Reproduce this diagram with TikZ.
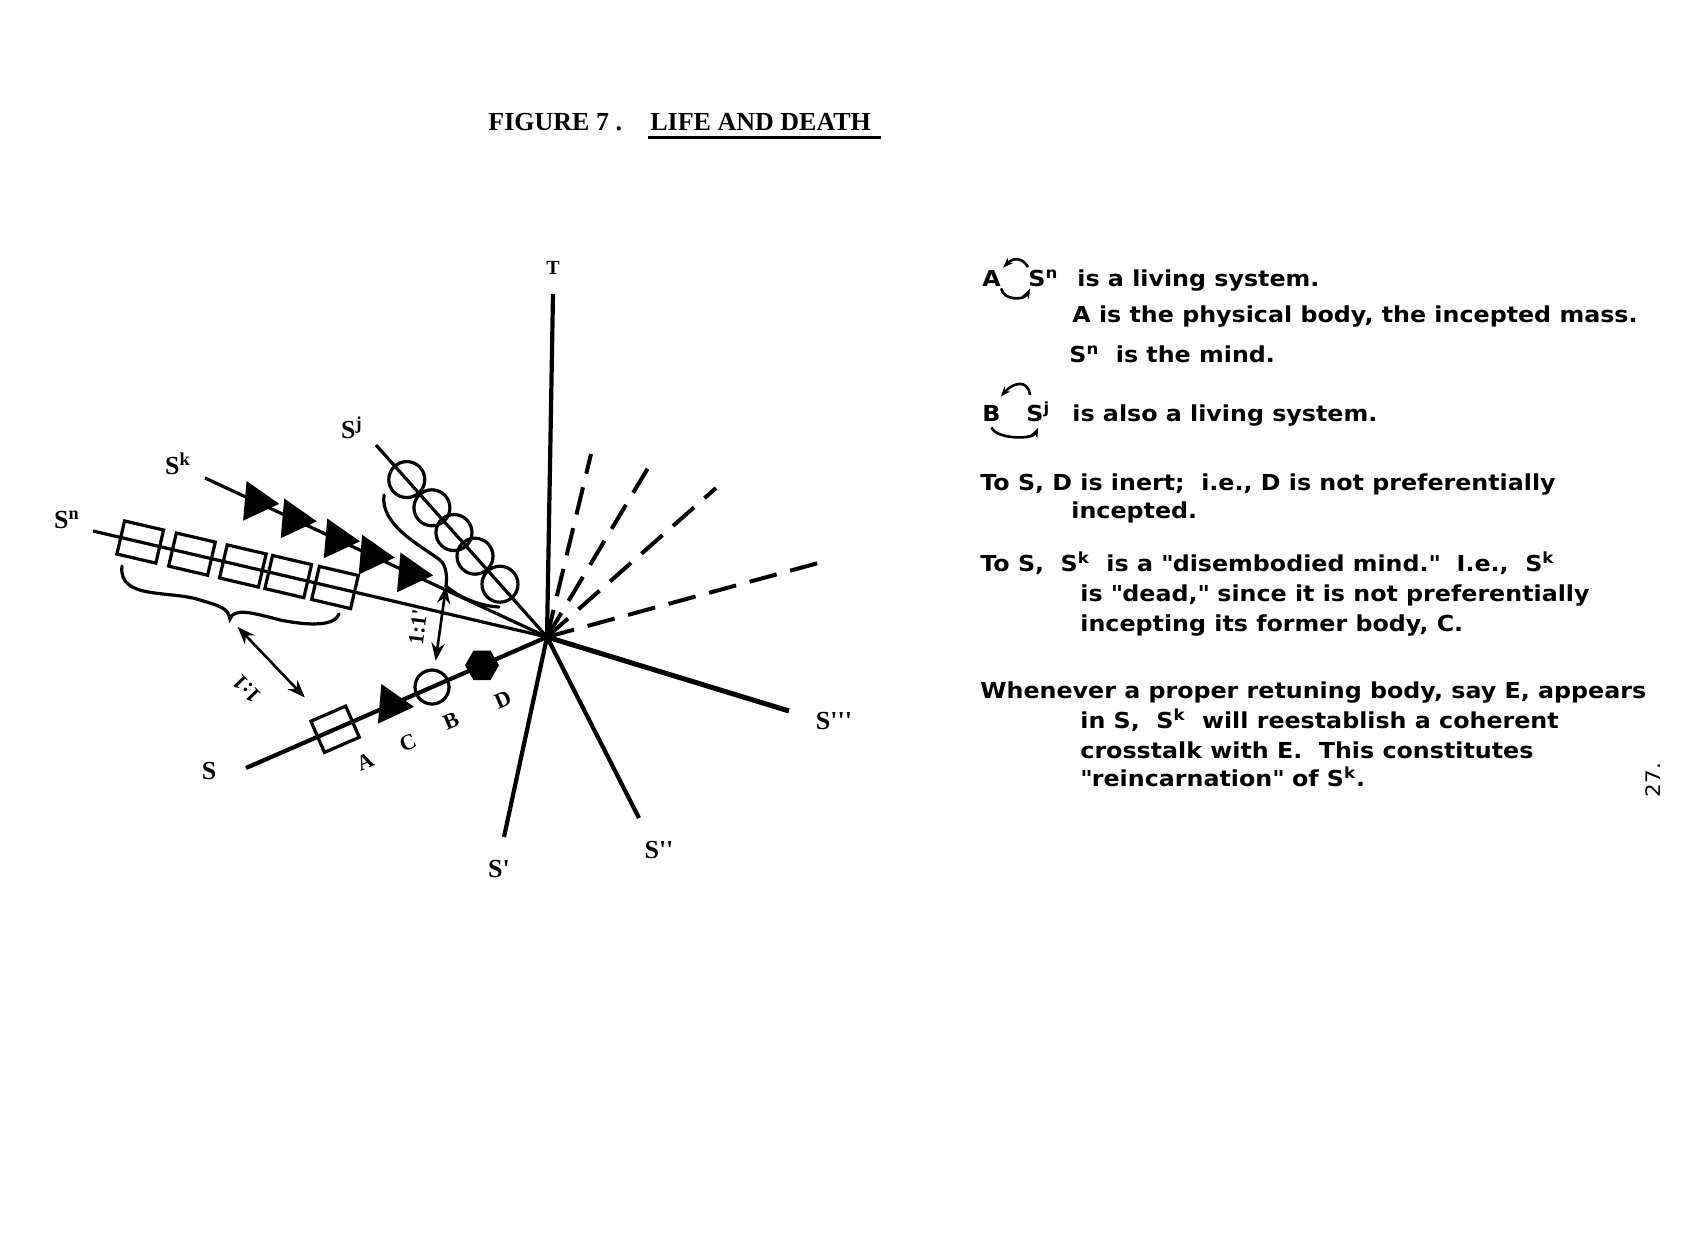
\documentclass[tikz,border=0pt]{standalone}
\usepackage{fontspec}
\setmainfont{DejaVu Sans}[FakeStretch=1.08]
\newfontfamily\diagfont{Liberation Serif}
\usetikzlibrary{shapes.geometric, arrows.meta, positioning, calc}

\begin{document}
\begin{tikzpicture}[x=0.5pt, y=-0.5pt, >=Stealth,
  ray/.style={line width=2.1pt},
  feed/.style={line width=1.6pt},
  dray/.style={line width=2pt, dash pattern=on 14pt off 7pt},
  cell/.style={rectangle, draw, line width=1.6pt, minimum width=20pt, minimum height=17pt, inner sep=0pt},
  tri/.style={regular polygon, regular polygon sides=3, shape border rotate=-95, fill, minimum size=23pt, inner sep=0pt},
  ring/.style={circle, draw, line width=1.6pt, minimum size=18pt, inner sep=0pt},
  hexa/.style={regular polygon, regular polygon sides=6, fill, minimum size=17pt, inner sep=0pt},
  lbl/.style={inner sep=0pt, font=\diagfont\bfseries\fontsize{13}{15}\selectfont},
  sml/.style={inner sep=0pt, font=\diagfont\bfseries\fontsize{11}{13}\selectfont},
  txt/.style={anchor=base west, inner sep=0pt, font=\fontsize{11}{13}\selectfont\bfseries},
  ttl/.style={anchor=base west, inner sep=0pt, font=\diagfont\bfseries\fontsize{13}{15}\selectfont},
  link/.style={<->, line width=1.3pt},
  icon/.style={-{Stealth[length=5pt]}, line width=1.3pt}]
  \useasboundingbox (0,0) rectangle (1693,1242);

  \node[ttl] (fig) at (488,130) {FIGURE 7 .};
  \node[ttl] (head) at (650,130) {LIFE AND DEATH};
  \draw[line width=1.5pt] ([xshift=-1pt, yshift=-3.5pt]head.base west) -- ([xshift=5pt, yshift=-3.5pt]head.base east);

  \coordinate (O) at (547,637);
  \coordinate (tEnd) at (553,294);
  \coordinate (s1End) at (504,837);
  \coordinate (s2End) at (639,818);
  \coordinate (s3End) at (789,711);
  \coordinate (sEnd) at (246,768);
  \coordinate (snEnd) at (93,531);
  \coordinate (skEnd) at (205,478);
  \coordinate (sjEnd) at (376,445);
  \coordinate (d1) at (591,454);
  \coordinate (d2) at (648,468);
  \coordinate (d3) at (716,488);
  \coordinate (d4) at (822,562);

  \draw[ray] (O) -- (tEnd);
  \draw[ray] (O) -- (s1End);
  \draw[ray] (O) -- (s2End);
  \draw[ray, line width=2.5pt] (O) -- (s3End);
  \draw[ray] (sEnd) -- (O);
  \draw[feed] (snEnd) -- (O);
  \draw[feed] (skEnd) -- (O);
  \draw[feed] (sjEnd) -- (O);
  \foreach \i in {1,...,4}
    \draw[dray] (O) -- (d\i);

  \node[lbl, font=\diagfont\bfseries\fontsize{10}{12}\selectfont] (T) at (553,268) {T};
  \node[lbl] (sn) at (67,520) {S\textsuperscript{n}};
  \node[lbl] (sk) at (178,464) {S\textsuperscript{k}};
  \node[lbl] (sj) at (352,428) {S\textsuperscript{j}};
  \node[lbl] (s0) at (209,771) {S};
  \node[lbl] (s1) at (499,869) {S\textquotesingle};
  \node[lbl] (s2) at (659,850) {S\textquotesingle\textquotesingle};
  \node[lbl] (s3) at (834,721) {S\textquotesingle\textquotesingle\textquotesingle};

  \foreach \p [count=\i] in {0.104,0.218,0.33,0.43,0.533}
    \path (snEnd) -- (O) node[cell, sloped, pos=\p] (sq\i) {};
  \foreach \p [count=\i] in {0.15,0.26,0.386,0.488,0.6}
    \path (skEnd) -- (O) node[tri, pos=\p] (tr\i) {};
  \foreach \p [count=\i] in {0.18,0.327,0.456,0.579,0.725}
    \path (sjEnd) -- (O) node[ring, pos=\p] (ci\i) {};

  \path (sEnd) -- (O)
    node[cell, sloped, pos=0.296, minimum width=19pt] (a) {}
    node[tri, pos=0.482] (c) {}
    node[ring, pos=0.618, minimum size=17pt] (b) {}
    node[hexa, pos=0.784] (d) {};
  \node[sml, rotate=23] (la) at (365,762) {A};
  \node[sml, rotate=23] (lc) at (408,743) {C};
  \node[sml, rotate=23] (lb) at (451,721) {B};
  \node[sml, rotate=23] (ld) at (503,700) {D};

  \coordinate (braceTip) at (230,619);
  \draw[feed, line cap=round] (122,566) .. controls (118,600) and (170,590) .. (200,600)
    .. controls (220,606) and (228,608) .. (braceTip)
    .. controls (234,608) and (250,612) .. (280,620)
    .. controls (310,626) and (335,626) .. (339,614);
  \coordinate (hookTip) at (446,586);
  \draw[feed, line cap=round] (384,495) .. controls (380,525) and (420,545) .. (440,560)
    .. controls (447,566) and (447,578) .. (hookTip)
    .. controls (460,598) and (480,606) .. (499,607);

  \draw[link, shorten <=5.5pt, shorten >=12pt] (braceTip) -- (a);
  \draw[link, shorten >=4pt] (hookTip) -- (b);
  \node[sml, rotate=134] (r1) at (247,689) {1:1};
  \node[sml, rotate=83] (r2) at (418,627) {1:1\textquotesingle};

  \node[txt] (iA) at (982,286) {A};
  \node[txt] (iSn) at (1028,286) {S\textsuperscript{n}};
  \draw[icon] ([yshift=1pt]iSn.north west) .. controls +(-6,-10) and +(10,-10) .. ([xshift=1pt, yshift=1pt]iA.north east);
  \draw[icon] ([yshift=-1pt]iA.south east) .. controls +(2,12) and +(-6,12) .. ([xshift=1pt, yshift=-1pt]iSn.south west);
  \node[txt] (t1) at (1077,286) {is a living system.};
  \node[txt] (t2) at (1072,322) {A is the physical body, the incepted mass.};
  \node[txt] (t3) at (1069,362) {S\textsuperscript{n}\ \ is the mind.};

  \node[txt] (iB) at (982,421) {B};
  \node[txt] (iSj) at (1026,421) {S\textsuperscript{j}};
  \draw[icon] ([xshift=2pt, yshift=3pt]iSj.north west) .. controls +(-2,-16) and +(12,-14) .. ([yshift=4pt]iB.north east);
  \draw[icon] ([yshift=-3pt]iB.south) .. controls +(5,12) and +(-6,12) .. ([yshift=-3pt]iSj.south);
  \node[txt] (t4) at (1072,421) {is also a living system.};

  \node[txt] (t5) at (980,490) {To S, D is inert;\ \ i.e., D is not preferentially};
  \node[txt] (t6) at (1071,518) {incepted.};
  \node[txt] (t7) at (980,571) {To S,\ \ S\textsuperscript{k}\ \ is a \textquotedbl disembodied mind.\textquotedbl\ \ I.e.,\ \ S\textsuperscript{k}};
  \node[txt] (t8) at (1080,601) {is \textquotedbl dead,\textquotedbl\ since it is not preferentially};
  \node[txt] (t9) at (1080,631) {incepting its former body, C.};
  \node[txt] (t10) at (980,698) {Whenever a proper retuning body, say E, appears};
  \node[txt] (t11) at (1080,728) {in S,\ \ S\textsuperscript{k}\ \ will reestablish a coherent};
  \node[txt] (t12) at (1080,758) {crosstalk with E.\ \ This constitutes};
  \node[txt] (t13) at (1080,786) {\textquotedbl reincarnation\textquotedbl\ of S\textsuperscript{k}.};

  \node[txt, anchor=center, rotate=90, font=\fontsize{10}{12}\selectfont] (pg) at (1653,780) {27.};
\end{tikzpicture}
\end{document}
